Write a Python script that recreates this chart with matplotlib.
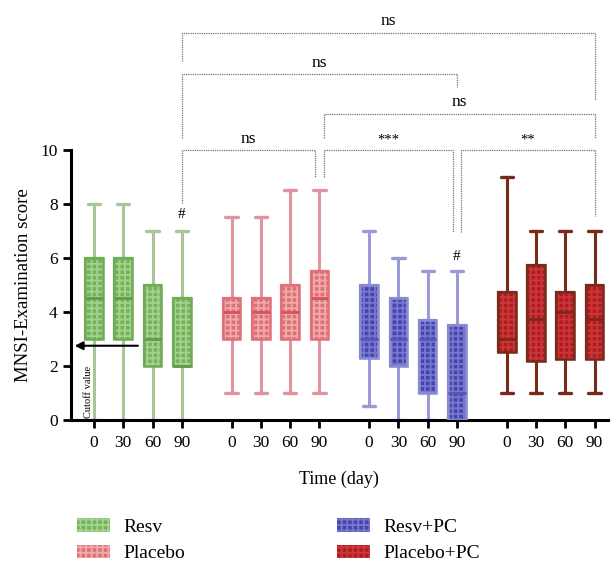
import matplotlib
matplotlib.use("Agg")
import matplotlib.pyplot as plt
from matplotlib.patches import Patch, PathPatch

plt.rcParams['font.family'] = ['Liberation Serif', 'DejaVu Serif']
plt.rcParams['hatch.linewidth'] = 1.4

groups = ["Resv", "Placebo", "Resv+PC", "Placebo+PC"]
days = ["0", "30", "60", "90"]

# box stats, 4 days per group, in group order
whisker_low = [0, 0, 0, 0, 1, 1, 1, 1, 0.5, 0, 0, 0, 1, 1, 1, 1]
q1 = [3, 3, 2, 2, 3, 3, 3, 3, 2.3, 2, 1, 0, 2.5, 2.2, 2.25, 2.25]
median = [4.5, 4.5, 3, 2, 4, 4, 4, 4.5, 3, 3, 3, 1, 3, 3.75, 4, 3.75]
q3 = [6, 6, 5, 4.5, 4.5, 4.5, 5, 5.5, 5, 4.5, 3.7, 3.5, 4.75, 5.75, 4.75, 5]
whisker_high = [8, 8, 7, 7, 7.5, 7.5, 8.5, 8.5, 7, 6, 5.5, 5.5, 9, 7, 7, 7]

cutoff = 2.75

# (left box, right box, bracket height, left leg end, right leg end, label)
brackets = [
    (3, 7, 10.0, 8.05, 9.0, "ns"),
    (7, 11, 10.0, 9.0, 6.95, "***"),
    (11, 15, 10.0, 6.95, 7.55, "**"),
    (7, 15, 11.35, 10.45, 10.45, "ns"),
    (3, 11, 12.8, 10.45, 12.35, "ns"),
    (3, 15, 14.35, 13.3, 11.85, "ns"),
]
hash_boxes = [3, 11]
hash_y = [7.6, 6.05]

face = ['#74b258', '#de6f78', '#4444ae', '#b31a20']
hatchc = ['#a3d28e', '#eeaaa6', '#7676cc', '#c8383a']
edge = ['#70ab58', '#e0707c', '#8a8ad2', '#7a2a18']
whisk = ['#a7c798', '#e1949f', '#9a9ad8', '#7a2a18']
medc = ['#5f9c4a', '#d9515f', '#5555b5', '#7a2a18']

stride = 4.7
positions = [g * stride + d for g in range(4) for d in range(4)]

fig = plt.figure(figsize=(6.12, 5.62), dpi=100)
ax = fig.add_axes([0.116, 0.2527, 0.877, 0.4804])

stats = []
for i in range(16):
    stats.append(dict(med=median[i], q1=q1[i], q3=q3[i],
                      whislo=whisker_low[i], whishi=whisker_high[i], fliers=[]))

bp = ax.bxp(stats, positions=positions, widths=0.6, capwidths=0.42,
            patch_artist=True, showfliers=False)

for i, box in enumerate(bp['boxes']):
    g = i // 4
    box.set_facecolor(face[g])
    box.set_edgecolor(edge[g])
    box.set_linewidth(1.6)
    box.set_zorder(3)
    overlay = PathPatch(box.get_path(), facecolor='none', edgecolor=hatchc[g],
                        linewidth=0, hatch='+++', zorder=3.5)
    ax.add_patch(overlay)
    border = PathPatch(box.get_path(), facecolor='none', edgecolor=edge[g],
                       linewidth=1.8, zorder=3.6)
    ax.add_patch(border)
    bp['medians'][i].set_color(medc[g])
    bp['medians'][i].set_linewidth(2.0)
    bp['medians'][i].set_zorder(4)
    for w in bp['whiskers'][2 * i:2 * i + 2]:
        w.set_color(whisk[g])
        w.set_linewidth(2.2)
        w.set_zorder(2)
    for c in bp['caps'][2 * i:2 * i + 2]:
        c.set_color(whisk[g])
        c.set_linewidth(2.4)
        c.set_solid_capstyle('round')
        c.set_zorder(2)

ax.set_xlim(-0.785, 17.55)
ax.set_ylim(0, 10)
ax.set_xticks(positions)
ax.set_xticklabels(days * 4, fontsize=12.5)
ax.set_yticks([0, 2, 4, 6, 8, 10])
ax.tick_params(axis='y', labelsize=12.5, length=6, width=2)
ax.tick_params(axis='x', length=6, width=2, pad=5)
for s in ['top', 'right']:
    ax.spines[s].set_visible(False)
for s in ['left', 'bottom']:
    ax.spines[s].set_linewidth(2.2)
ax.set_ylabel("MNSI-Examination score", fontsize=13.5, labelpad=6)
ax.set_xlabel("Time (day)", fontsize=13, labelpad=14)

# cutoff arrow
ax.annotate("", xy=(-0.66, cutoff), xytext=(1.5, cutoff),
            arrowprops=dict(arrowstyle='-|>', color='black', lw=1.5,
                            mutation_scale=12, shrinkA=0, shrinkB=0),
            annotation_clip=False, zorder=6)
ax.text(-0.2, 0.08, "Cutoff value", rotation=90, fontsize=7.5,
        ha='center', va='bottom', zorder=6)

for b, y in zip(hash_boxes, hash_y):
    ax.text(positions[b], y, "#", fontsize=11, ha='center', va='center')

# significance brackets, legs next to a shared box are nudged apart
for lb, rb, y, yl, yr, lab in brackets:
    x1 = positions[lb]
    x2 = positions[rb]
    if lb in (7, 11):
        x1 += 0.15
    if rb == 7 or (rb == 11 and lb == 7):
        x2 -= 0.15
    ax.plot([x1, x1, x2, x2], [yl, y, y, yr], color='#777777', lw=0.9,
            linestyle=(0, (1, 0.8)), clip_on=False)
    ax.text((x1 + x2) / 2, y + 0.12, lab, fontsize=12.5 if lab == "ns" else 10.5,
            ha='center', va='bottom')

handles = [Patch(facecolor=face[g], edgecolor=hatchc[g], hatch='+++',
                 linewidth=0, label=groups[g]) for g in range(4)]
fig.legend(handles=handles, ncol=2,
           loc='upper left', bbox_to_anchor=(0.126, 0.078), frameon=False,
           fontsize=14, handlelength=1.7, handleheight=0.68,
           handletextpad=0.7, columnspacing=7.8, labelspacing=0.48,
           borderaxespad=0, borderpad=0)

fig.savefig("out.png", dpi=100)
